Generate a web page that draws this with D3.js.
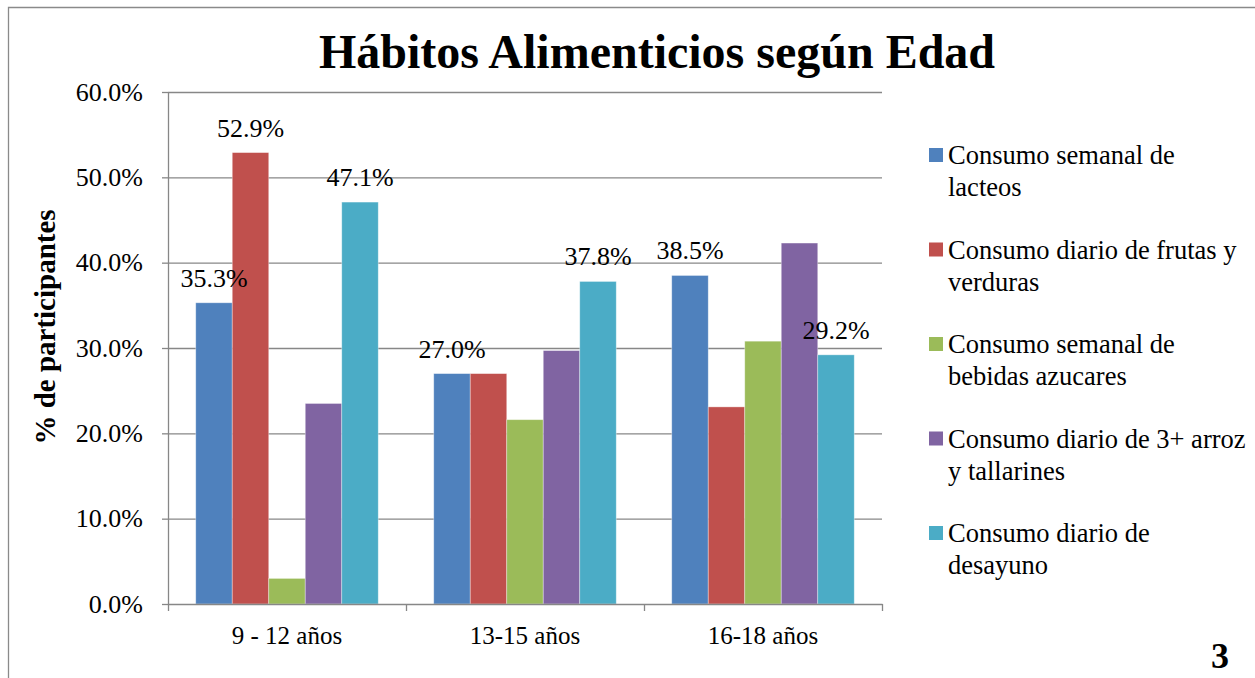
<!DOCTYPE html>
<html>
<head>
<meta charset="utf-8">
<script src="https://cdn.jsdelivr.net/npm/d3@7"></script>
<style>
  body { margin: 0; background: #fff; }
  svg { display: block; }
  svg text { font-family: "Liberation Serif", "Times New Roman", Times, "DejaVu Serif", serif; }
  .grid line { stroke: #878787; stroke-width: 1.3; }
  .grid .domain { display: none; }
  .axis path, .axis line { stroke: #878787; stroke-width: 1.3; }
</style>
</head>
<body>
<div id="graphic"></div>
<script>
// habitos alimenticios por edad
const categories = ["9 - 12 años", "13-15 años", "16-18 años"];
const seriesNames = [
  ["Consumo semanal de", "lacteos"],
  ["Consumo diario de frutas y", "verduras"],
  ["Consumo semanal de", "bebidas azucares"],
  ["Consumo diario de 3+ arroz", "y tallarines"],
  ["Consumo diario de", "desayuno"]
];
// one array per series, one value per age group
const lacteos = [35.3, 27.0, 38.5];
const frutas = [52.9, 27.0, 23.1];
const bebidas = [3.0, 21.6, 30.8];
const arroz = [23.5, 29.7, 42.3];
const desayuno = [47.1, 37.8, 29.2];
const yTicks = [0, 10, 20, 30, 40, 50, 60];
// which bars carry a value label: [category index, series index]
const labelled = [[0, 0], [0, 1], [0, 4], [1, 0], [1, 4], [2, 0], [2, 4]];

const colors = ["#4F81BD", "#C0504D", "#9BBB59", "#8064A2", "#4BACC6"];
const values = [lacteos, frutas, bebidas, arroz, desayuno];

const W = 1255, H = 678;
const margin = { left: 168, right: 373, top: 92, bottom: 74 };
const width = W - margin.left - margin.right;
const height = H - margin.top - margin.bottom;

const svg = d3.select("#graphic").append("svg")
  .attr("width", W)
  .attr("height", H);

// outer frame (only top and left show in the picture)
svg.append("path")
  .attr("d", `M8.5,${H} L8.5,7.5 L${W},7.5`)
  .attr("fill", "none")
  .attr("stroke", "#8a8a8a")
  .attr("stroke-width", 1.3);

svg.append("text")
  .attr("x", 657)
  .attr("y", 68)
  .attr("text-anchor", "middle")
  .attr("font-size", 48)
  .attr("font-weight", "bold")
  .text("Hábitos Alimenticios según Edad");

const plot = svg.append("g")
  .attr("transform", `translate(${margin.left}, ${margin.top})`);

const x0 = d3.scaleBand()
  .domain(categories)
  .range([0, width])
  .padding(0);

const x1 = d3.scaleBand()
  .domain(d3.range(values.length))
  .range([0, x0.bandwidth()])
  .paddingInner(0)
  .paddingOuter(0.76);

const y = d3.scaleLinear()
  .domain([0, 60])
  .range([height, 0]);

// grid lines
plot.append("g")
  .attr("class", "grid")
  .call(d3.axisLeft(y).tickValues(yTicks.slice(1)).tickSize(-width).tickFormat(""));

// bars
const groups = plot.selectAll("g.cat")
  .data(categories)
  .enter().append("g")
  .attr("class", "cat")
  .attr("transform", d => `translate(${x0(d)},0)`);

groups.selectAll("rect")
  .data((d, i) => values.map((s, j) => ({ s: j, v: s[i] })))
  .enter().append("rect")
  .attr("x", d => x1(d.s))
  .attr("width", x1.bandwidth())
  .attr("y", d => y(d.v))
  .attr("height", d => height - y(d.v))
  .attr("fill", d => colors[d.s])
  .attr("stroke", "#ffffff")
  .attr("stroke-opacity", 0.45)
  .attr("stroke-width", 0.8);

// value labels
plot.selectAll("text.lbl")
  .data(labelled)
  .enter().append("text")
  .attr("class", "lbl")
  .attr("x", d => x0(categories[d[0]]) + x1(d[1]) + x1.bandwidth() / 2)
  .attr("y", d => y(values[d[1]][d[0]]) - 16)
  .attr("text-anchor", "middle")
  .attr("font-size", 26)
  .text(d => values[d[1]][d[0]].toFixed(1) + "%");

// axes
const yAxis = plot.append("g")
  .attr("class", "axis")
  .call(d3.axisLeft(y).tickValues(yTicks).tickSize(6).tickSizeOuter(0).tickPadding(19)
    .tickFormat(d => d.toFixed(1) + "%"));
yAxis.selectAll("text")
  .attr("font-size", 26)
  .attr("fill", "#000");

const xAxis = plot.append("g")
  .attr("class", "axis")
  .attr("transform", `translate(0, ${height})`)
  .call(d3.axisBottom(x0).tickSize(0).tickSizeOuter(0).tickPadding(22));
xAxis.selectAll("text")
  .attr("font-size", 25)
  .attr("fill", "#000");

// tick marks between categories
xAxis.selectAll("line.sep")
  .data(d3.range(categories.length + 1))
  .enter().append("line")
  .attr("class", "sep")
  .attr("x1", i => i * x0.step() + 0.5)
  .attr("x2", i => i * x0.step() + 0.5)
  .attr("y1", 0)
  .attr("y2", 7);

svg.append("text")
  .attr("transform", `translate(55, 327) rotate(-90)`)
  .attr("text-anchor", "middle")
  .attr("font-size", 29)
  .attr("font-weight", "bold")
  .text("% de participantes");

// legend
const legend = svg.append("g")
  .attr("transform", "translate(929, 155)");

const item = legend.selectAll("g")
  .data(seriesNames)
  .enter().append("g")
  .attr("transform", (d, i) => `translate(0, ${i * 94.5})`);

item.append("rect")
  .attr("x", 0)
  .attr("y", -7)
  .attr("width", 14)
  .attr("height", 14)
  .attr("fill", (d, i) => colors[i]);

item.selectAll("text")
  .data(d => d)
  .enter().append("text")
  .attr("x", 19)
  .attr("y", (d, i) => 9 + i * 32)
  .attr("font-size", 26.5)
  .text(d => d);

svg.append("text")
  .attr("x", 1220)
  .attr("y", 668)
  .attr("text-anchor", "middle")
  .attr("font-size", 36)
  .attr("font-weight", "bold")
  .text("3");
</script>
</body>
</html>
